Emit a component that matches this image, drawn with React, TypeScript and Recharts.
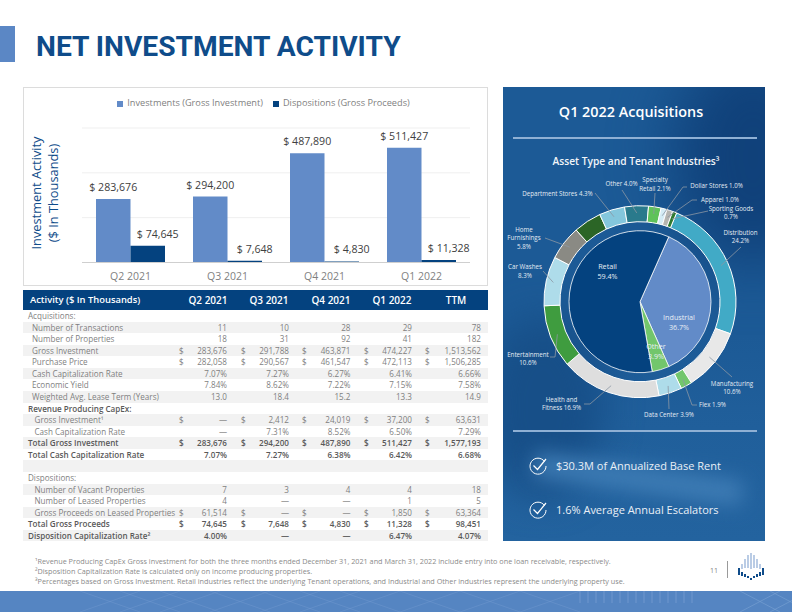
import React from 'react';
import { BarChart, Bar, XAxis, YAxis, CartesianGrid, Legend, LabelList, PieChart, Pie, Cell } from 'recharts';

const quarters = ['Q2 2021', 'Q3 2021', 'Q4 2021', 'Q1 2022'];
const investments = [283676, 294200, 487890, 511427];
const dispositions = [74645, 7648, 4830, 11328];

const barData = quarters.map((q, i) => ({ quarter: q, investments: investments[i], dispositions: dispositions[i] }));

const assetNames = ['Industrial', 'Other', 'Retail'];
const assetValues = [36.7, 3.9, 59.4];
const assetColors = ['#628bc8', '#72c66c', '#04427f'];

const tenantNames = ['Distribution', 'Manufacturing', 'Flex', 'Data Center', 'Health and Fitness', 'Entertainment', 'Car Washes', 'Home Furnishings', 'Unlabeled', 'Department Stores', 'Other', 'Specialty Retail', 'Dollar Stores', 'Apparel', 'Sporting Goods'];
const tenantValues = [24.2, 10.6, 1.9, 3.9, 16.9, 10.6, 8.3, 5.8, 4.7, 4.3, 4.0, 2.1, 1.0, 1.0, 0.7];
const tenantColors = ['#41aac6', '#e8e8e8', '#72c66c', '#aedcea', '#dedede', '#3f9c3f', '#aedcea', '#8a8a84', '#2b6526', '#84c6dc', '#2a7a8c', '#5fc25a', '#d4ecf4', '#b5b5b0', '#2f7a30'];

const headerLabels = ['Activity ($ In Thousands)', 'Q2 2021', 'Q3 2021', 'Q4 2021', 'Q1 2022', 'TTM'];
const rowLabels = [
  'Acquisitions:', 'Number of Transactions', 'Number of Properties', 'Gross Investment', 'Purchase Price',
  'Cash Capitalization Rate', 'Economic Yield', 'Weighted Avg. Lease Term (Years)', 'Revenue Producing CapEx:',
  'Gross Investment¹', 'Cash Capitalization Rate', 'Total Gross Investment', 'Total Cash Capitalization Rate', '',
  'Dispositions:', 'Number of Vacant Properties', 'Number of Leased Properties', 'Gross Proceeds on Leased Properties',
  'Total Gross Proceeds', 'Disposition Capitalization Rate²',
];
const colQ2 = ['', '11', '18', '283,676', '282,058', '7.07%', '7.84%', '13.0', '', '—', '—', '283,676', '7.07%', '', '', '7', '4', '61,514', '74,645', '4.00%'];
const colQ3 = ['', '10', '31', '291,788', '290,567', '7.27%', '8.62%', '18.4', '', '2,412', '7.31%', '294,200', '7.27%', '', '', '3', '—', '—', '7,648', '—'];
const colQ4 = ['', '28', '92', '463,871', '461,547', '6.27%', '7.22%', '15.2', '', '24,019', '8.52%', '487,890', '6.38%', '', '', '4', '—', '—', '4,830', '—'];
const colQ1 = ['', '29', '41', '474,227', '472,113', '6.41%', '7.15%', '13.3', '', '37,200', '6.50%', '511,427', '6.42%', '', '', '4', '1', '1,850', '11,328', '6.47%'];
const colTtm = ['', '78', '182', '1,513,562', '1,506,285', '6.66%', '7.58%', '14.9', '', '63,631', '7.29%', '1,577,193', '6.68%', '', '', '18', '5', '63,364', '98,451', '4.07%'];
const tableCols = [colQ2, colQ3, colQ4, colQ1, colTtm];
const dollarRows = [3, 4, 9, 11, 17, 18];
const boldRows = [8, 11, 12, 18, 19];
const flushRows = [0, 8, 11, 12, 14, 18, 19];

const footnotes = [
  '¹Revenue Producing CapEx Gross investment for both the three months ended December 31, 2021 and March 31, 2022 include entry into one loan receivable, respectively.',
  '²Disposition Capitalization Rate is calculated only on income producing properties.',
  '³Percentages based on Gross Investment. Retail industries reflect the underlying Tenant operations, and Industrial and Other industries represent the underlying property use.',
];
const highlights = ['$30.3M of Annualized Base Rent', '1.6% Average Annual Escalators'];

// layout of the table, page px
const dollarX = [181, 243, 304, 366, 427];
const rightX = [227, 289, 350.5, 412, 481];
const headerX = [208, 269, 331, 392, 456];
const ROW_H = 11.57;

const FONT = '"Open Sans", sans-serif';
const PIE_LEFT = 503;
const PIE_TOP = 87;

// where each tenant label sits on the page, and the elbow of its leader line
const tenantLabels: Record<string, { lines: string[]; x: number; y: number; from?: [number, number][] }> = {
  Distribution: { lines: ['Distribution', '24.2%'], x: 740.5, y: 233, from: [[741, 247]] },
  Manufacturing: { lines: ['Manufacturing', '10.6%'], x: 732, y: 384, from: [[732, 377]] },
  Flex: { lines: ['Flex 1.9%'], x: 712.5, y: 405, from: [[697, 405], [692, 405]] },
  'Data Center': { lines: ['Data Center 3.9%'], x: 669, y: 415, from: [[669, 409]] },
  'Health and Fitness': { lines: ['Health and', 'Fitness 16.9%'], x: 561.5, y: 400, from: [[584, 404], [590, 404]] },
  Entertainment: { lines: ['Entertainment', '10.6%'], x: 528, y: 355, from: [[550, 357], [555, 357]] },
  'Car Washes': { lines: ['Car Washes', '8.3%'], x: 525, y: 267.5, from: [[543, 271]] },
  'Home Furnishings': { lines: ['Home', 'Furnishings', '5.8%'], x: 524, y: 230, from: [[545, 238]] },
  'Department Stores': { lines: ['Department Stores 4.3%'], x: 557.5, y: 194, from: [[595, 193]] },
  Other: { lines: ['Other 4.0%'], x: 621.5, y: 184, from: [[622, 190]] },
  'Specialty Retail': { lines: ['Specialty', 'Retail 2.1%'], x: 655, y: 180.5, from: [[655, 193]] },
  'Dollar Stores': { lines: ['Dollar Stores 1.0%'], x: 716.5, y: 186.5, from: [[687, 187], [683, 187]] },
  Apparel: { lines: ['Apparel 1.0%'], x: 720, y: 200, from: [[697, 200], [692, 200]] },
  'Sporting Goods': { lines: ['Sporting Goods', '0.7%'], x: 731, y: 209, from: [[708, 211]] },
};
const assetLabels: Record<string, { lines: string[]; x: number; y: number }> = {
  Retail: { lines: ['Retail', '59.4%'], x: 607.5, y: 267 },
  Industrial: { lines: ['Industrial', '36.7%'], x: 679, y: 318 },
  Other: { lines: ['Other', '3.9%'], x: 656, y: 347.5 },
};

const renderTenantLabel = (props: any) => {
  const spec = tenantLabels[props.name];
  if (!spec) return <g />;
  const rad = (-props.midAngle * Math.PI) / 180;
  const r = props.innerRadius + (props.outerRadius - props.innerRadius) * 0.55;
  const end = [props.cx + r * Math.cos(rad), props.cy + r * Math.sin(rad)];
  const path = [...(spec.from || []).map(([x, y]) => [x - PIE_LEFT, y - PIE_TOP]), end];
  return (
    <g>
      <polyline points={path.map((p) => p.join(',')).join(' ')} fill="none" stroke="#8c97a3" strokeWidth={0.8} />
      {spec.lines.map((line, i) => (
        <text key={line} x={spec.x - PIE_LEFT} y={spec.y - PIE_TOP + i * 8.6} textAnchor="middle" dominantBaseline="middle" fontSize={6.2} fill="#e3ebf3" fontFamily={FONT}>
          {line}
        </text>
      ))}
    </g>
  );
};

const renderAssetLabel = (props: any) => {
  const spec = assetLabels[props.name];
  return (
    <g>
      {spec.lines.map((line, i) => (
        <text key={line} x={spec.x - PIE_LEFT} y={spec.y - PIE_TOP + i * 9.6} textAnchor="middle" dominantBaseline="middle" fontSize={7.2} fill="#e8eef5" fontFamily={FONT}>
          {line}
        </text>
      ))}
    </g>
  );
};

const barLabel = (shift: number) => (props: any) => (
  <text x={props.x + props.width / 2 + shift} y={props.y - 8} textAnchor="middle" fill="#404040" fontSize={10.6} fontWeight={500} fontFamily={FONT}>
    {`$ ${Number(props.value).toLocaleString('en-US')}`}
  </text>
);

const Check = ({ y }: { y: number }) => (
  <svg width={22} height={22} style={{ position: 'absolute', left: 527, top: y - 11 }} viewBox="0 0 22 22">
    <path d="M17.5 6.5 A8 8 0 1 0 19 11" fill="none" stroke="#fff" strokeWidth={1} />
    <path d="M6.5 10.5 L10.5 14.5 L19 4" fill="none" stroke="#fff" strokeWidth={1.2} />
  </svg>
);

const Logo = () => (
  <svg width={30} height={28} style={{ position: 'absolute', left: 737, top: 553 }} viewBox="0 0 30 28">
    {[2, 5, 8, 11, 14, 17, 20, 23, 26].map((x, i) => (
      <g key={x}>
        <line x1={x} x2={x} y1={[16, 11, 6, 2, 0, 2, 6, 11, 16][i]} y2={[19, 16, 15, 15, 16, 15, 15, 16, 19][i]} stroke="#9db7da" strokeWidth={1.4} />
        <line x1={x} x2={x} y1={[15, 19, 21, 23, 25, 23, 21, 19, 15][i]} y2={[22, 23, 24, 25, 27, 25, 24, 23, 22][i]} stroke="#0f4c8a" strokeWidth={2} />
      </g>
    ))}
  </svg>
);

const BottomBand = () => (
  <svg width={792} height={21} style={{ position: 'absolute', left: 0, top: 591 }}>
    <rect width={792} height={21} fill="#5585c2" />
    {[80, 120, 160, 210, 260, 300, 340, 400, 460, 520].map((x) => (
      <path key={x} d={`M${x} 0 L${x + 60} 21 M${x + 60} 0 L${x} 21`} stroke="#6b95cc" strokeWidth={0.6} fill="none" />
    ))}
    {[580, 588, 596, 604, 612, 620, 628, 636, 644, 652, 660, 668, 676, 684, 692].map((x) => (
      <line key={x} x1={x} x2={x} y1={0} y2={12} stroke="#7ba2d4" strokeWidth={0.7} />
    ))}
    {[740, 770].map((x) => (
      <path key={x} d={`M${x} 0 L${x + 40} 21 M${x + 40} 0 L${x} 21`} stroke="#7ba2d4" strokeWidth={0.6} fill="none" />
    ))}
  </svg>
);

const App: React.FC = () => {
  return (
    <div style={{ position: 'absolute', left: 0, top: 0, width: 792, height: 612, background: '#fff', overflow: 'hidden', fontFamily: FONT }}>
      <div style={{ position: 'absolute', left: 0, top: 26, width: 15, height: 36, background: '#5b87c5' }} />
      <div style={{ position: 'absolute', left: 36, top: 29, fontSize: 28.2, lineHeight: '36px', fontWeight: 700, color: '#0f4c8a', fontFamily: 'Roboto, sans-serif', whiteSpace: 'nowrap' }}>
        NET INVESTMENT ACTIVITY
      </div>

      {/* bar chart */}
      <div style={{ position: 'absolute', left: 23, top: 87, width: 465, height: 199, boxSizing: 'border-box', border: '1px solid #dcdcdc' }} />
      <div style={{ position: 'absolute', left: 23, top: 87 }}>
        <BarChart width={465} height={199} data={barData} margin={{ top: 41, right: 18, left: 59, bottom: 0 }} barSize={34.5} barGap={0}>
          <CartesianGrid horizontal vertical={false} stroke="#efefef" />
          <XAxis dataKey="quarter" height={23.5} axisLine={{ stroke: '#cfcfcf', strokeWidth: 1.2 }} tickLine={false} tick={{ fill: '#7f7f7f', fontSize: 10.5, fontFamily: FONT, dy: 2 }} />
          <YAxis hide domain={[0, 600000]} ticks={[0, 100000, 200000, 300000, 400000, 500000, 600000]} />
          <Legend
            verticalAlign="middle"
            iconType="square"
            iconSize={6}
            itemSorter={null}
            wrapperStyle={{ top: 9, left: 13, width: 465, fontSize: 9.2, fontFamily: FONT }}
            formatter={(value: string) => <span style={{ color: '#7f7f7f' }}>{value}</span>}
          />
          <Bar dataKey="investments" name="Investments (Gross Investment)" fill="#628bc8" isAnimationActive={false}>
            <LabelList dataKey="investments" content={barLabel(0)} />
          </Bar>
          <Bar dataKey="dispositions" name="Dispositions (Gross Proceeds)" fill="#04427f" isAnimationActive={false}>
            <LabelList dataKey="dispositions" content={barLabel(10)} />
          </Bar>
        </BarChart>
      </div>
      <div style={{ position: 'absolute', left: -55, top: 176, width: 200, textAlign: 'center', transform: 'rotate(-90deg)', color: '#0f4c8a', fontSize: 12.8, lineHeight: '17px', fontWeight: 500 }}>
        Investment Activity
        <br />
        ($ In Thousands)
      </div>

      {/* table */}
      <div style={{ position: 'absolute', left: 23, top: 290, width: 465, height: 20, background: '#04427f' }} />
      {headerLabels.map((label, i) => (
        <div
          key={label}
          style={i === 0
            ? { position: 'absolute', left: 30, top: 290, lineHeight: '20px', fontSize: 9.4, fontWeight: 600, color: '#fff', whiteSpace: 'nowrap' }
            : { position: 'absolute', left: headerX[i - 1] - 40, width: 80, textAlign: 'center', top: 290, lineHeight: '20px', fontSize: 10, fontWeight: 600, color: '#fff' }}
        >
          {label}
        </div>
      ))}
      {rowLabels.map((label, r) => {
        const bold = boldRows.includes(r);
        const color = bold ? '#595959' : '#7f7f7f';
        const top = 310 + r * ROW_H;
        const base: React.CSSProperties = { position: 'absolute', top, lineHeight: `${ROW_H}px`, fontSize: 8.1, fontWeight: bold ? 600 : 400, color, whiteSpace: 'nowrap' };
        return (
          <React.Fragment key={r}>
            {r % 2 === 1 && <div style={{ position: 'absolute', left: 23, top, width: 465, height: ROW_H, background: '#f2f2f2' }} />}
            <div style={{ ...base, left: flushRows.includes(r) ? 28 : r > 8 ? 34.5 : 32 }}>{label}</div>
            {tableCols.map((col, c) => (
              <React.Fragment key={c}>
                {dollarRows.includes(r) && <div style={{ ...base, left: dollarX[c] - 2 }}>$</div>}
                <div style={{ ...base, right: 792 - rightX[c] }}>{col[r]}</div>
              </React.Fragment>
            ))}
          </React.Fragment>
        );
      })}

      {/* footnotes */}
      {footnotes.map((note, i) => (
        <div key={i} style={{ position: 'absolute', left: 35, top: 556 + i * 10, lineHeight: '10px', fontSize: 7.25, color: '#8a8a8a', whiteSpace: 'nowrap' }}>
          {note}
        </div>
      ))}
      <div style={{ position: 'absolute', left: 710, top: 565, fontSize: 7, lineHeight: '12px', color: '#7f7f7f' }}>11</div>
      <div style={{ position: 'absolute', left: 727, top: 561, width: 1, height: 17, background: '#9a9a9a' }} />
      <Logo />

      {/* right panel */}
      <div style={{ position: 'absolute', left: 503, top: 87, width: 262, height: 454, overflow: 'hidden', background: 'linear-gradient(180deg, #1c5a96 0%, #1c5a96 55%, #205f9b 75%, #23639f 100%)' }}>
        <div style={{ position: 'absolute', left: 170, top: -40, width: 160, height: 220, background: '#10417a', filter: 'blur(30px)', borderRadius: '50%' }} />
        <div style={{ position: 'absolute', left: -20, top: 230, width: 120, height: 180, background: '#174f88', filter: 'blur(18px)', borderRadius: '50%' }} />
        <div style={{ position: 'absolute', left: 30, top: 380, width: 210, height: 24, background: '#3f7db6', filter: 'blur(10px)', transform: 'rotate(8deg)' }} />
      </div>
      <div style={{ position: 'absolute', left: 500, width: 262, top: 102, textAlign: 'center', fontSize: 14.4, lineHeight: '20px', fontWeight: 600, color: '#fff' }}>Q1 2022 Acquisitions</div>
      <div style={{ position: 'absolute', left: 513, top: 137, width: 244, height: 1.5, background: '#8fb0d4' }} />
      <div style={{ position: 'absolute', left: 503, width: 266, top: 153, textAlign: 'center', fontSize: 10.2, lineHeight: '16px', fontWeight: 600, color: '#f2f5f9' }}>Asset Type and Tenant Industries³</div>
      <div style={{ position: 'absolute', left: PIE_LEFT, top: PIE_TOP }}>
        <PieChart width={262} height={454} margin={{ top: 0, right: 0, bottom: 0, left: 0 }}>
          <Pie
            data={tenantNames.map((name, i) => ({ name, value: tenantValues[i] }))}
            dataKey="value"
            cx={137}
            cy={214.7}
            innerRadius={80}
            outerRadius={96}
            startAngle={67.6}
            endAngle={-292.4}
            stroke="#fff"
            strokeWidth={1}
            label={renderTenantLabel}
            labelLine={false}
            isAnimationActive={false}
          >
            {tenantColors.map((color, i) => (
              <Cell key={tenantNames[i]} fill={color} />
            ))}
          </Pie>
          <Pie
            data={assetNames.map((name, i) => ({ name, value: assetValues[i] }))}
            dataKey="value"
            cx={137}
            cy={214.7}
            innerRadius={0}
            outerRadius={71}
            startAngle={66.1}
            endAngle={-293.9}
            stroke="#fff"
            strokeWidth={0.8}
            label={renderAssetLabel}
            labelLine={false}
            isAnimationActive={false}
          >
            {assetColors.map((color, i) => (
              <Cell key={assetNames[i]} fill={color} />
            ))}
          </Pie>
        </PieChart>
      </div>
      <div style={{ position: 'absolute', left: 513, top: 430, width: 244, height: 1.5, background: '#8fb0d4' }} />
      {highlights.map((text, i) => (
        <React.Fragment key={text}>
          <Check y={466 + i * 44} />
          <div style={{ position: 'absolute', left: 556, top: 458 + i * 44, lineHeight: '16px', fontSize: 11, color: '#e9eff6', whiteSpace: 'nowrap' }}>{text}</div>
        </React.Fragment>
      ))}

      <BottomBand />
    </div>
  );
};

export default App;
